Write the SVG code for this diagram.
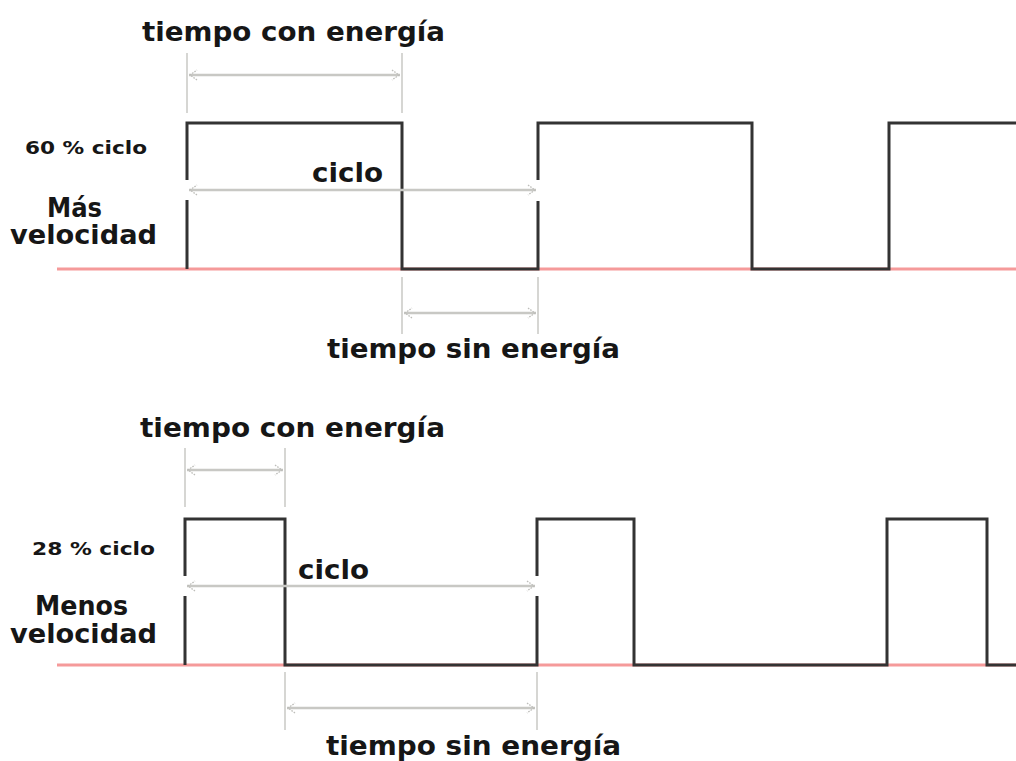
<svg xmlns="http://www.w3.org/2000/svg" width="1016" height="761" viewBox="0 0 1016 761">
  <style>
    .lbl { font-family: "DejaVu Sans", Verdana, sans-serif; font-weight: bold; fill: #161616; }
    .big { font-size: 26px; }
    .small { font-size: 17px; }
    .base { stroke: #f59a9a; stroke-width: 3; fill: none; }
    .sig { stroke: #333; stroke-width: 3; fill: none; stroke-linejoin: miter; }
    .ext { stroke: #c8c8c4; stroke-width: 1.5; fill: none; }
    .dim { stroke: #c8c8c4; stroke-width: 2.5; fill: none; marker-start: url(#ah); marker-end: url(#ah); }
  </style>
  <defs>
    <marker id="ah" viewBox="0 0 12 12" refX="11" refY="6" markerWidth="12" markerHeight="12" markerUnits="userSpaceOnUse" orient="auto-start-reverse">
      <polyline points="3,1 10,6 3,11" fill="none" stroke="#bdbdb9" stroke-width="1.3" stroke-dasharray="1.6,1.2"/>
    </marker>
  </defs>
  <rect width="1016" height="761" fill="#fff"/>

  <g id="top-signal">
    <line class="base" x1="57" y1="269" x2="1016" y2="269"/>
    <path class="sig" d="M187,269 V200 M187,180 V123 H402 V269 H538 V201 M538,180 V123 H752 V269 H889 V123 H1016"/>
  </g>
  <g id="bottom-signal">
    <line class="base" x1="57" y1="665" x2="1016" y2="665"/>
    <path class="sig" d="M185,665 V596 M185,576 V519 H285 V665 H537 V596 M537,576 V519 H634 V665 H887 V519 H987 V665 H1016"/>
  </g>

  <g id="connectors">
    <line class="ext" x1="187" y1="53" x2="187" y2="113"/>
    <line class="ext" x1="402" y1="53" x2="402" y2="113"/>
    <line class="dim" x1="189" y1="75" x2="400" y2="75"/>
    <line class="dim" x1="189" y1="190" x2="536" y2="190"/>
    <line class="ext" x1="402" y1="277" x2="402" y2="334"/>
    <line class="ext" x1="538" y1="277" x2="538" y2="334"/>
    <line class="dim" x1="404" y1="313" x2="536" y2="313"/>

    <line class="ext" x1="185" y1="448" x2="185" y2="507"/>
    <line class="ext" x1="285" y1="448" x2="285" y2="507"/>
    <line class="dim" x1="187" y1="470" x2="283" y2="470"/>
    <line class="dim" x1="187" y1="586" x2="535" y2="586"/>
    <line class="ext" x1="285" y1="672" x2="285" y2="730"/>
    <line class="ext" x1="537" y1="672" x2="537" y2="730"/>
    <line class="dim" x1="287" y1="708" x2="535" y2="708"/>
  </g>

  <g id="top-labels">
    <text class="lbl big" x="142" y="41" textLength="303" lengthAdjust="spacingAndGlyphs">tiempo con energía</text>
    <text class="lbl small" x="25" y="154" textLength="122" lengthAdjust="spacingAndGlyphs">60 % ciclo</text>
    <text class="lbl big" x="312" y="182" textLength="71" lengthAdjust="spacingAndGlyphs">ciclo</text>
    <text class="lbl big" x="47" y="217" textLength="55" lengthAdjust="spacingAndGlyphs">Más</text>
    <text class="lbl big" x="10" y="244" textLength="147" lengthAdjust="spacingAndGlyphs">velocidad</text>
    <text class="lbl big" x="327" y="358" textLength="293" lengthAdjust="spacingAndGlyphs">tiempo sin energía</text>
  </g>
  <g id="bottom-labels">
    <text class="lbl big" x="140" y="437" textLength="305" lengthAdjust="spacingAndGlyphs">tiempo con energía</text>
    <text class="lbl small" x="32" y="555" textLength="123" lengthAdjust="spacingAndGlyphs">28 % ciclo</text>
    <text class="lbl big" x="298" y="579" textLength="71" lengthAdjust="spacingAndGlyphs">ciclo</text>
    <text class="lbl big" x="35" y="615" textLength="93" lengthAdjust="spacingAndGlyphs">Menos</text>
    <text class="lbl big" x="10" y="643" textLength="147" lengthAdjust="spacingAndGlyphs">velocidad</text>
    <text class="lbl big" x="326" y="755" textLength="295" lengthAdjust="spacingAndGlyphs">tiempo sin energía</text>
  </g>
</svg>
